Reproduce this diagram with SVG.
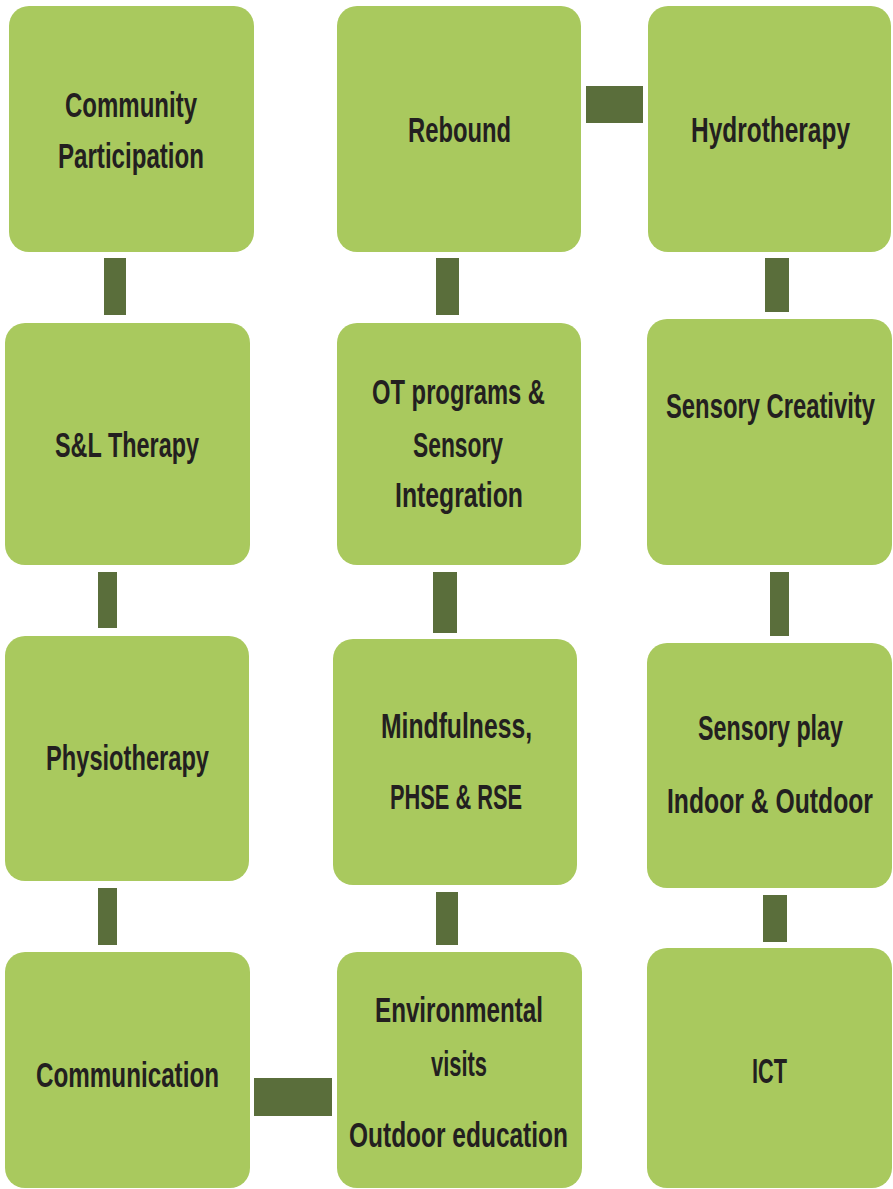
<svg xmlns="http://www.w3.org/2000/svg" width="893" height="1189" viewBox="0 0 893 1189">
  <style>
    .box { fill: #a9c95e; }
    .link { fill: #5a6e3b; }
    .label { font-family: "Liberation Sans", Arial, sans-serif; font-weight: bold; font-size: 35px; fill: #231f20; }
  </style>
  <rect width="893" height="1189" fill="#ffffff"/>

  <!-- connectors -->
  <g id="connectors">
    <rect class="link" x="104" y="258" width="22" height="57"/>
    <rect class="link" x="98" y="572" width="19" height="56"/>
    <rect class="link" x="98" y="888" width="19" height="57"/>
    <rect class="link" x="254" y="1078" width="78" height="38"/>
    <rect class="link" x="436" y="892" width="22" height="53"/>
    <rect class="link" x="433" y="572" width="24" height="61"/>
    <rect class="link" x="436" y="258" width="23" height="57"/>
    <rect class="link" x="586" y="86" width="57" height="37"/>
    <rect class="link" x="765" y="258" width="24" height="54"/>
    <rect class="link" x="770" y="572" width="19" height="64"/>
    <rect class="link" x="763" y="895" width="24" height="47"/>
  </g>

  <!-- column 1 -->
  <g id="community-participation">
    <rect class="box" x="9" y="6" width="245" height="246" rx="20"/>
    <text class="label" x="65" y="117" textLength="132" lengthAdjust="spacingAndGlyphs">Community</text>
    <text class="label" x="58" y="168" textLength="146" lengthAdjust="spacingAndGlyphs">Participation</text>
  </g>
  <g id="sl-therapy">
    <rect class="box" x="5" y="323" width="245" height="242" rx="20"/>
    <text class="label" x="55" y="457" textLength="144" lengthAdjust="spacingAndGlyphs">S&amp;L Therapy</text>
  </g>
  <g id="physiotherapy">
    <rect class="box" x="5" y="636" width="244" height="245" rx="20"/>
    <text class="label" x="46" y="770" textLength="163" lengthAdjust="spacingAndGlyphs">Physiotherapy</text>
  </g>
  <g id="communication">
    <rect class="box" x="5" y="952" width="245" height="236" rx="20"/>
    <text class="label" x="36" y="1087" textLength="183" lengthAdjust="spacingAndGlyphs">Communication</text>
  </g>

  <!-- column 2 -->
  <g id="rebound">
    <rect class="box" x="337" y="6" width="244" height="246" rx="20"/>
    <text class="label" x="408" y="142" textLength="103" lengthAdjust="spacingAndGlyphs">Rebound</text>
  </g>
  <g id="ot-programs">
    <rect class="box" x="337" y="323" width="244" height="242" rx="20"/>
    <text class="label" x="372" y="404" textLength="173" lengthAdjust="spacingAndGlyphs">OT programs &amp;</text>
    <text class="label" x="413" y="457" textLength="90" lengthAdjust="spacingAndGlyphs">Sensory</text>
    <text class="label" x="395" y="507" textLength="128" lengthAdjust="spacingAndGlyphs">Integration</text>
  </g>
  <g id="mindfulness">
    <rect class="box" x="333" y="639" width="244" height="246" rx="20"/>
    <text class="label" x="381" y="738" textLength="151" lengthAdjust="spacingAndGlyphs">Mindfulness,</text>
    <text class="label" x="390" y="809" textLength="132" lengthAdjust="spacingAndGlyphs">PHSE &amp; RSE</text>
  </g>
  <g id="environmental-visits">
    <rect class="box" x="337" y="952" width="245" height="236" rx="20"/>
    <text class="label" x="375" y="1022" textLength="168" lengthAdjust="spacingAndGlyphs">Environmental</text>
    <text class="label" x="431" y="1076" textLength="56" lengthAdjust="spacingAndGlyphs">visits</text>
    <text class="label" x="349" y="1147" textLength="219" lengthAdjust="spacingAndGlyphs">Outdoor education</text>
  </g>

  <!-- column 3 -->
  <g id="hydrotherapy">
    <rect class="box" x="648" y="6" width="243" height="246" rx="20"/>
    <text class="label" x="691" y="142" textLength="159" lengthAdjust="spacingAndGlyphs">Hydrotherapy</text>
  </g>
  <g id="sensory-creativity">
    <rect class="box" x="647" y="319" width="245" height="246" rx="20"/>
    <text class="label" x="666" y="418" textLength="209" lengthAdjust="spacingAndGlyphs">Sensory Creativity</text>
  </g>
  <g id="sensory-play">
    <rect class="box" x="647" y="643" width="245" height="245" rx="20"/>
    <text class="label" x="698" y="740" textLength="145" lengthAdjust="spacingAndGlyphs">Sensory play</text>
    <text class="label" x="667" y="813" textLength="206" lengthAdjust="spacingAndGlyphs">Indoor &amp; Outdoor</text>
  </g>
  <g id="ict">
    <rect class="box" x="647" y="948" width="245" height="240" rx="20"/>
    <text class="label" x="752" y="1083" textLength="35" lengthAdjust="spacingAndGlyphs">ICT</text>
  </g>
</svg>
